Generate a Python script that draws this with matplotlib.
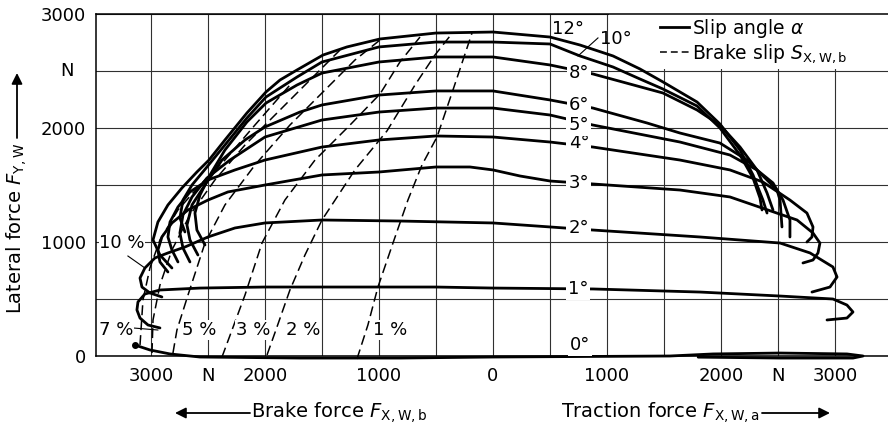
import matplotlib
matplotlib.use("Agg")
import matplotlib.pyplot as plt
from matplotlib.lines import Line2D
from matplotlib.patches import Rectangle

plt.rcParams['font.family'] = ['DejaVu Sans']
plt.rcParams['mathtext.fontset'] = 'dejavusans'

# ---------------- data (N) ----------------
# x < 0 : brake force, x > 0 : traction force ; y : lateral force
alpha_0_x = [-3140, -3009, -2833, -2570, -1693, -816, 0, 1553, 1930, 2518, 3105, 3246, 3158, 2518, 1800]
alpha_0_y = [96, 53, 18, -9, -18, -18, -9, 0, 18, 26, 18, 0, -18, -18, -10]

alpha_1_x = [-2921, -3026, -3096, -3123, -3114, -3053, -2921, -2570, -2000, -1500, -500, 0, 877, 1816, 2518, 2982, 3105, 3158, 3105, 2930]
alpha_1_y = [246, 272, 333, 404, 474, 544, 579, 596, 605, 605, 605, 596, 588, 561, 526, 500, 447, 386, 333, 316]

alpha_2_x = [-2904, -3009, -3079, -3096, -3053, -2965, -2851, -2702, -2500, -2263, -2000, -1500, -816, 0, 500, 877, 1816, 2518, 2781, 2982, 3018, 2956, 2798]
alpha_2_y = [518, 553, 605, 684, 772, 860, 904, 956, 1044, 1123, 1167, 1193, 1184, 1167, 1132, 1105, 1044, 991, 904, 781, 693, 605, 561]

alpha_3_x = [-2851, -2921, -2939, -2904, -2816, -2675, -2500, -2325, -2000, -1500, -1000, -500, -202, 0, 237, 500, 877, 1640, 2079, 2667, 2807, 2868, 2851, 2807, 2719]
alpha_3_y = [737, 825, 930, 1044, 1167, 1281, 1368, 1439, 1500, 1588, 1614, 1658, 1658, 1632, 1579, 1535, 1509, 1456, 1395, 1193, 1079, 991, 904, 842, 816]

alpha_4_x = [-2763, -2816, -2851, -2833, -2763, -2658, -2500, -2263, -2000, -1500, -1000, -500, 0, 500, 877, 1640, 2079, 2368, 2605, 2754, 2807, 2798, 2754]
alpha_4_y = [825, 930, 1044, 1175, 1307, 1439, 1544, 1632, 1719, 1833, 1895, 1930, 1921, 1877, 1833, 1719, 1632, 1526, 1368, 1254, 1132, 1044, 1000]

alpha_5_x = [-2658, -2719, -2746, -2719, -2640, -2509, -2307, -2000, -1500, -1000, -500, 0, 500, 877, 1640, 2079, 2316, 2456, 2544, 2605, 2605]
alpha_5_y = [825, 947, 1079, 1237, 1395, 1561, 1719, 1921, 2070, 2140, 2175, 2175, 2114, 2026, 1877, 1763, 1632, 1518, 1368, 1193, 1044]

alpha_6_x = [-2588, -2658, -2684, -2640, -2526, -2377, -2175, -2000, -1693, -1500, -1000, -500, 0, 500, 877, 1351, 1640, 1991, 2228, 2404, 2491, 2518, 2535]
alpha_6_y = [886, 1018, 1149, 1325, 1500, 1719, 1895, 2009, 2140, 2202, 2289, 2325, 2325, 2246, 2175, 2044, 1956, 1868, 1719, 1544, 1456, 1368, 1132]

alpha_8_x = [-2526, -2597, -2614, -2570, -2482, -2351, -2158, -1991, -1719, -1500, -1000, -500, 0, 500, 877, 1491, 1790, 1991, 2167, 2316, 2404, 2456]
alpha_8_y = [974, 1105, 1254, 1412, 1588, 1807, 2053, 2219, 2377, 2482, 2579, 2623, 2623, 2553, 2474, 2307, 2158, 2026, 1833, 1632, 1430, 1281]

alpha_10_x = [-2702, -2746, -2719, -2640, -2509, -2351, -2158, -1991, -1719, -1500, -1000, -500, 0, 500, 763, 1053, 1289, 1491, 1790, 1991, 2167, 2281, 2342, 2360]
alpha_10_y = [1088, 1211, 1368, 1500, 1658, 1851, 2088, 2272, 2447, 2579, 2711, 2754, 2754, 2737, 2632, 2535, 2430, 2342, 2193, 2000, 1763, 1561, 1386, 1281]

alpha_12_x = [-2816, -2921, -2982, -2939, -2851, -2728, -2597, -2491, -2351, -2158, -1991, -1868, -1719, -1491, -1281, -991, -500, 0, 500, 763, 1053, 1289, 1491, 1790, 1991, 2167, 2281, 2368, 2404]
alpha_12_y = [772, 886, 1018, 1175, 1325, 1474, 1614, 1719, 1895, 2132, 2316, 2421, 2509, 2640, 2711, 2781, 2833, 2842, 2798, 2728, 2632, 2518, 2404, 2228, 2035, 1807, 1588, 1368, 1254]

slip_1_x = [-1193, -1097, -1009, -877, -746, -623, -491, -351, -263, -184]
slip_1_y = [-26, 272, 605, 991, 1368, 1675, 1921, 2333, 2596, 2833]
slip_2_x = [-1982, -1904, -1781, -1649, -1500, -1211, -930, -684, -509, -377]
slip_2_y = [9, 228, 579, 886, 1193, 1632, 1974, 2377, 2640, 2807]
slip_3_x = [-2377, -2289, -2175, -2026, -1825, -1561, -1254, -991, -816, -640]
slip_3_y = [-9, 228, 535, 991, 1368, 1719, 2026, 2298, 2579, 2798]
slip_5_x = [-2807, -2772, -2675, -2526, -2351, -2088, -1781, -1474, -1211, -991]
slip_5_y = [26, 228, 535, 991, 1325, 1675, 2026, 2333, 2596, 2772]
slip_7_x = [-2991, -2982, -2921, -2816, -2658, -2439, -2175, -1868, -1605, -1342]
slip_7_y = [26, 316, 623, 930, 1237, 1544, 1851, 2158, 2421, 2684]
slip_10_x = [-3096, -3070, -3009, -2921, -2763, -2570, -2351, -2088, -1781]
slip_10_y = [96, 491, 772, 1018, 1281, 1500, 1719, 2026, 2377]

angle_labels = ['0°', '1°', '2°', '3°', '4°', '5°', '6°', '8°']
angle_label_x = [763, 746, 754, 754, 754, 754, 754, 754]
angle_label_y = [96, 588, 1123, 1518, 1868, 2026, 2202, 2482]

slip_labels = ['10 %', '7 %', '5 %', '3 %', '2 %', '1 %']
slip_label_x = [-3254, -3307, -2579, -2105, -1667, -904]
slip_label_y = [991, 228, 228, 228, 228, 228]

x_ticks = [-3000, -2500, -2000, -1500, -1000, -500, 0, 500, 1000, 1500, 2000, 2500, 3000]
x_tick_labels = ['3000', 'N', '2000', '', '1000', '', '0', '', '1000', '', '2000', 'N', '3000']
y_ticks = [0, 500, 1000, 1500, 2000, 2500, 3000]
y_tick_labels = ['0', '', '1000', '', '2000', '', '3000']

# ---------------- figure ----------------
W, H = 888, 428
fig = plt.figure(figsize=(W / 100, H / 100), dpi=100)
ax = fig.add_axes([96 / W, (H - 356) / H, 792 / W, 342 / H])
ax.set_xlim(-3482, 3465)
ax.set_ylim(0, 3000)

ax.set_xticks(x_ticks)
ax.set_xticklabels(x_tick_labels)
ax.set_yticks(y_ticks)
ax.set_yticklabels(y_tick_labels)
ax.tick_params(length=0, labelsize=13)
ax.tick_params(axis='x', pad=8)
ax.tick_params(axis='y', pad=7)
ax.set_axisbelow(True)
ax.grid(True, color='#303030', lw=0.8)
for s in ['left', 'top', 'bottom']:
    ax.spines[s].set_linewidth(1.1)
ax.spines['right'].set_visible(False)

# y "N" unit label
ax.text(-3482 - 29 * 8.772, 2500, 'N', ha='center', va='center', fontsize=13)

# white legend box covering the grid in the top right
ax.add_patch(Rectangle((1015, 2515), 3465 - 1015, 490, facecolor='white', edgecolor='none', zorder=1))

# curves
curve_kw = dict(color='black', lw=2.0, solid_joinstyle='round', solid_capstyle='round', zorder=3, clip_on=False)
for xs, ys in [(alpha_0_x, alpha_0_y), (alpha_1_x, alpha_1_y), (alpha_2_x, alpha_2_y),
               (alpha_3_x, alpha_3_y), (alpha_4_x, alpha_4_y), (alpha_5_x, alpha_5_y),
               (alpha_6_x, alpha_6_y), (alpha_8_x, alpha_8_y), (alpha_10_x, alpha_10_y),
               (alpha_12_x, alpha_12_y)]:
    ax.plot(xs, ys, **curve_kw)
ax.plot(alpha_0_x[:1], alpha_0_y[:1], 'o', color='black', ms=4, zorder=3)

dash_kw = dict(color='black', lw=1.1, linestyle=(0, (6.5, 3.3)), zorder=2, clip_on=False)
for xs, ys in [(slip_1_x, slip_1_y), (slip_2_x, slip_2_y), (slip_3_x, slip_3_y),
               (slip_5_x, slip_5_y), (slip_7_x, slip_7_y), (slip_10_x, slip_10_y)]:
    ax.plot(xs, ys, **dash_kw)

# angle labels (white background creates the gap in the curves)
for t, x, y in zip(angle_labels, angle_label_x, angle_label_y):
    ax.text(x, y, t, ha='center', va='center', fontsize=13, zorder=5,
            bbox=dict(facecolor='white', edgecolor='none', pad=1.5))
ax.text(658, 2868, '12°', ha='center', va='center', fontsize=13, zorder=5)
ax.text(1075, 2781, '10°', ha='center', va='center', fontsize=13, zorder=5)
ax.plot([921, 746], [2790, 2632], color='black', lw=0.8, zorder=4)

# slip labels
for t, x, y in zip(slip_labels, slip_label_x, slip_label_y):
    ax.text(x, y, t, ha='center', va='center', fontsize=13, zorder=5,
            bbox=dict(facecolor='white', edgecolor='none', pad=0.5))
ax.plot([-3202, -3053], [877, 772], color='black', lw=0.8, zorder=4)
ax.plot([-3158, -2939], [246, 228], color='black', lw=0.8, zorder=4)

# legend
handles = [Line2D([0], [0], color='black', lw=2.0),
           Line2D([0], [0], color='black', lw=1.1, linestyle=(0, (4.5, 2.6)))]
labels = [r'Slip angle $\alpha$', r'Brake slip $S_{\mathrm{X,W,b}}$']
leg = ax.legend(handles, labels, loc='upper left', bbox_to_anchor=((660 - 96) / 792, (356 - 17) / 342),
                frameon=False, fontsize=13.5, handlelength=1.55, handletextpad=0.15,
                labelspacing=0.12, borderpad=0, borderaxespad=0)
leg.set_zorder(6)

# axis titles with arrows
fig.text(17 / W, (H - 228) / H, r'Lateral force $F_{\mathrm{Y,W}}$', rotation=90,
         ha='center', va='center', fontsize=14)
fig.text(339 / W, (H - 413) / H, r'Brake force $F_{\mathrm{X,W,b}}$', ha='center', va='center', fontsize=14)
fig.text(661 / W, (H - 413) / H, r'Traction force $F_{\mathrm{X,W,a}}$', ha='center', va='center', fontsize=14)

arrow_kw = dict(arrowstyle='-|>', color='black', lw=1.3, mutation_scale=16, shrinkA=0, shrinkB=0)
ax.annotate('', xy=(17, H - 73), xytext=(17, H - 138), xycoords='figure pixels',
            textcoords='figure pixels', arrowprops=arrow_kw)
ax.annotate('', xy=(175, H - 413), xytext=(250, H - 413), xycoords='figure pixels',
            textcoords='figure pixels', arrowprops=arrow_kw)
ax.annotate('', xy=(830, H - 413), xytext=(762, H - 413), xycoords='figure pixels',
            textcoords='figure pixels', arrowprops=arrow_kw)

fig.savefig('out.png', dpi=100)
